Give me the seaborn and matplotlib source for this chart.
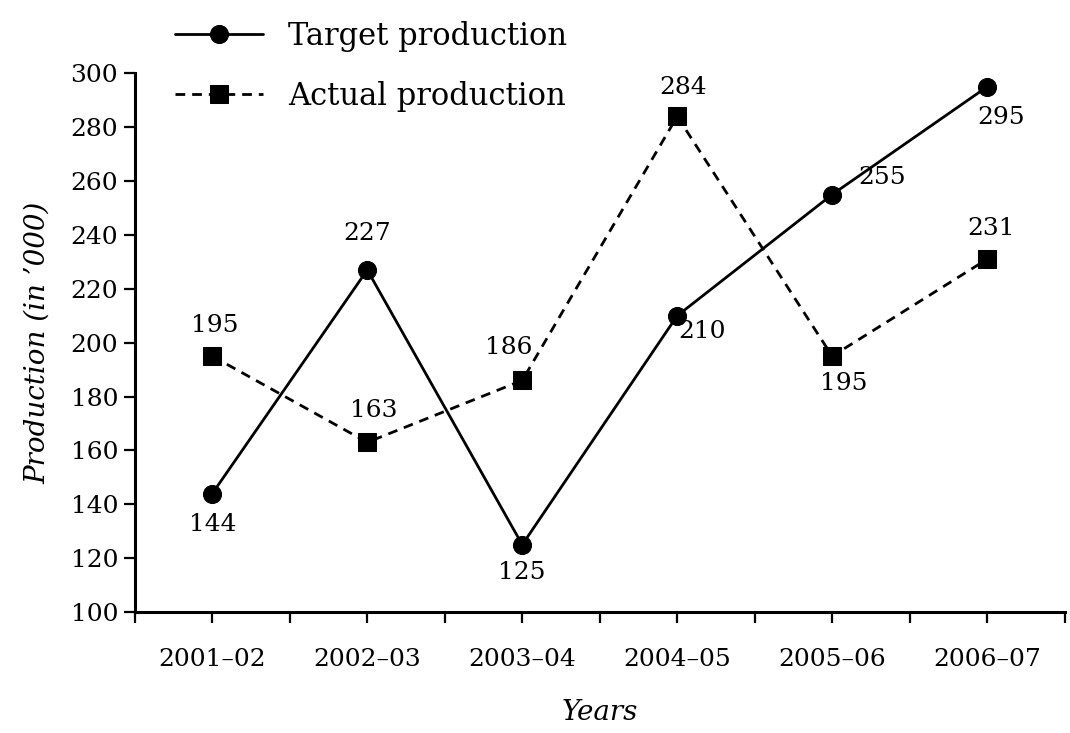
import matplotlib
matplotlib.use("Agg")
import matplotlib.pyplot as plt
import seaborn as sns
import pandas as pd
import numpy as np
from matplotlib.ticker import FixedLocator

years = ["2001\u201302", "2002\u201303", "2003\u201304", "2004\u201305", "2005\u201306", "2006\u201307"]
target = [144, 227, 125, 210, 255, 295]
actual = [195, 163, 186, 284, 195, 231]
series_names = ["Target production", "Actual production"]
y_ticks = list(range(100, 301, 20))

sns.set_theme(style="ticks")
plt.rcParams['font.family'] = ['DejaVu Serif']
plt.rcParams.update({"text.color": "black", "axes.labelcolor": "black",
                     "xtick.color": "black", "ytick.color": "black"})

df = pd.DataFrame({
    "Years": list(range(len(years))) * 2,
    "Production": target + actual,
    "Series": [series_names[0]] * len(years) + [series_names[1]] * len(years),
})

fig = plt.figure(figsize=(10.7, 7.33), dpi=100)
ax = fig.add_axes([0.126, 0.165, 0.869, 0.735])

sns.lineplot(data=df, x="Years", y="Production", hue="Series", style="Series",
             palette={series_names[0]: "black", series_names[1]: "black"},
             markers={series_names[0]: "o", series_names[1]: "s"},
             dashes={series_names[0]: "", series_names[1]: (3.5, 2.5)},
             markersize=13, linewidth=2.0, markeredgecolor="black",
             ax=ax, legend=True)

ax.set_xlim(-0.5, len(years) - 0.5)
ax.set_ylim(100, 300)
ax.set_xticks(range(len(years)))
ax.set_xticklabels(years)
ax.xaxis.set_minor_locator(FixedLocator(np.arange(-0.5, len(years), 1.0)))
ax.set_yticks(y_ticks)
ax.tick_params(axis="x", which="both", length=8, width=1.6, direction="out", labelsize=18, pad=18)
ax.tick_params(axis="y", length=8, width=1.6, direction="out", labelsize=18, pad=4)
for s in ["top", "right"]:
    ax.spines[s].set_visible(False)
for s in ["left", "bottom"]:
    ax.spines[s].set_linewidth(2.2)
    ax.spines[s].set_color("black")

ax.set_xlabel("Years", fontsize=20, fontstyle="italic", labelpad=20)
ax.set_ylabel("Production (in \u2019000)", fontsize=20, fontstyle="italic", labelpad=14)

# data labels (offsets in points)
t_off = [(0, -22), (0, 26), (0, -20), (18, -11), (36, 12), (10, -22)]
a_off = [(2, 22), (5, 23), (-10, 24), (4, 21), (8, -20), (3, 22)]
for i, v in enumerate(target):
    ax.annotate(str(v), (i, v), xytext=t_off[i], textcoords="offset points",
                ha="center", va="center", fontsize=18)
for i, v in enumerate(actual):
    ax.annotate(str(v), (i, v), xytext=a_off[i], textcoords="offset points",
                ha="center", va="center", fontsize=18)

leg = ax.legend(loc="upper left", bbox_to_anchor=(0.149, 0.992),
                bbox_transform=fig.transFigure, frameon=False, fontsize=22,
                handlelength=2.9, handletextpad=0.8, labelspacing=0.95,
                borderaxespad=0.3, borderpad=0.2)
leg.set_clip_on(False)

fig.savefig("out.png", dpi=100, facecolor="white")
